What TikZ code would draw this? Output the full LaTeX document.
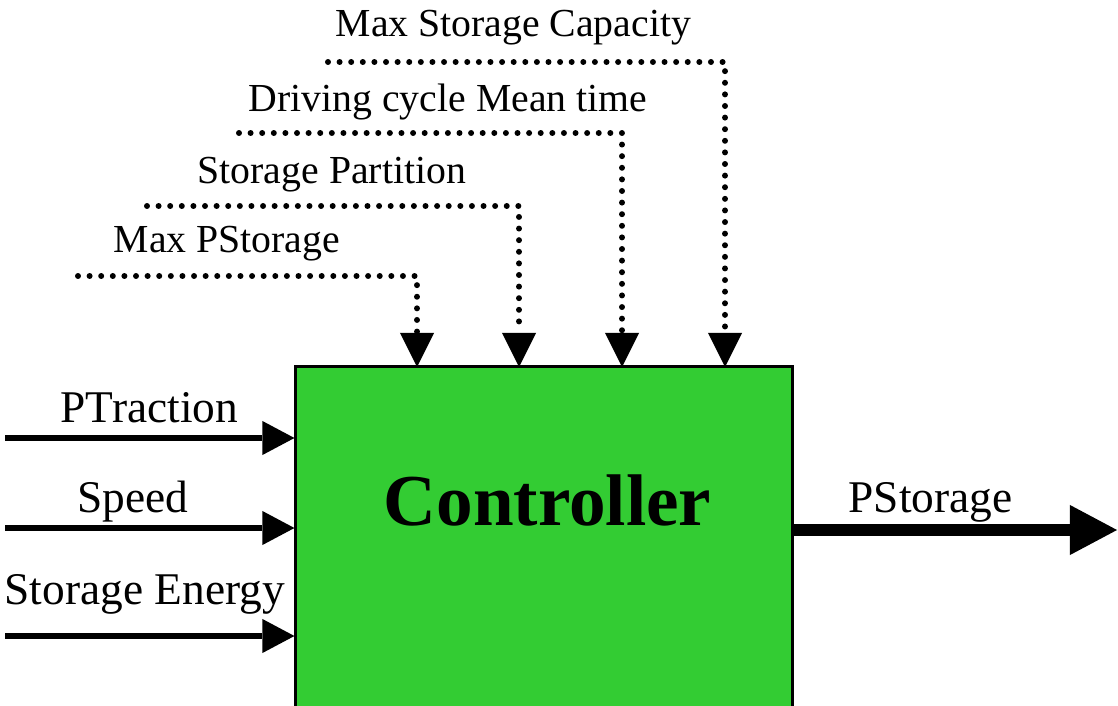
\documentclass[tikz,border=0pt]{standalone}
\usepackage{fontspec}
\setmainfont{Liberation Serif}
\usetikzlibrary{arrows.meta,positioning}
\definecolor{ctrlgreen}{HTML}{33CC33}

\tikzset{
  sigfont/.style={font=\fontsize{12.9}{15}\selectfont},
  parfont/.style={font=\fontsize{11.3}{13}\selectfont},
  siglbl/.style={sigfont, anchor=base west, inner sep=0pt},
  parlbl/.style={parfont, anchor=base west, inner sep=0pt},
  ctrlbox/.style={draw=black, line width=0.8pt, fill=ctrlgreen, minimum width=4.96cm, minimum height=3.93cm, inner sep=0pt},
  inarrow/.style={line width=1.7pt, -{Triangle[length=0.32cm, width=0.34cm, line width=0pt]}},
  outarrow/.style={line width=3.4pt, -{Triangle[length=0.47cm, width=0.50cm, line width=0pt]}},
  param/.style={line width=1.7pt, line cap=round, dash pattern=on 0pt off 3.3pt,
    -{Triangle[length=0.34cm, width=0.34cm, line width=0pt]}},
}

\begin{document}
\begin{tikzpicture}[x=0.01cm, y=-0.01cm]
  \useasboundingbox (0,0) rectangle (1118,706);
  \clip (0,0) rectangle (1118,706);

  % controller block
  \node[ctrlbox] (ctrl) at (544,563.5) {};
  \node[anchor=base west, inner sep=0pt, font=\fontsize{20.8}{24}\selectfont\bfseries] (ctrltxt) at (383,525) {Controller};

  % parameters from above
  \coordinate (p1) at (78,276);  \coordinate (t1) at (417,367);
  \coordinate (p2) at (147,206); \coordinate (t2) at (519,367);
  \coordinate (p3) at (239,133); \coordinate (t3) at (622,367);
  \coordinate (p4) at (328,62);  \coordinate (t4) at (725,367);

  \draw[param] (p1) -| (t1);
  \draw[param] (p2) -| (t2);
  \draw[param] (p3) -| (t3);
  \draw[param] (p4) -| (t4);

  \node[parlbl] (maxp)  at (113,252) {Max PStorage};
  \node[parlbl] (part)  at (197,183) {Storage Partition};
  \node[parlbl] (cycle) at (248,111) {Driving cycle Mean time};
  \node[parlbl] (cap)   at (335,37)  {Max Storage Capacity};

  % inputs
  \coordinate (in1) at (5,438);
  \coordinate (in2) at (5,528);
  \coordinate (in3) at (5,636);

  \draw[inarrow] (in1) -- (in1 -| ctrl.west);
  \draw[inarrow] (in2) -- (in2 -| ctrl.west);
  \draw[inarrow] (in3) -- (in3 -| ctrl.west);

  \node[siglbl] (ptr)     at (60,422) {PTraction};
  \node[siglbl] (spd)     at (77,512) {Speed};
  \node[siglbl] (senergy) at (4,604)  {Storage Energy};

  % output
  \coordinate (out) at (1117,530);
  \draw[outarrow] (ctrl.east |- out) -- (out);
  \node[siglbl] (pst) at (848,512) {PStorage};

\end{tikzpicture}
\end{document}
